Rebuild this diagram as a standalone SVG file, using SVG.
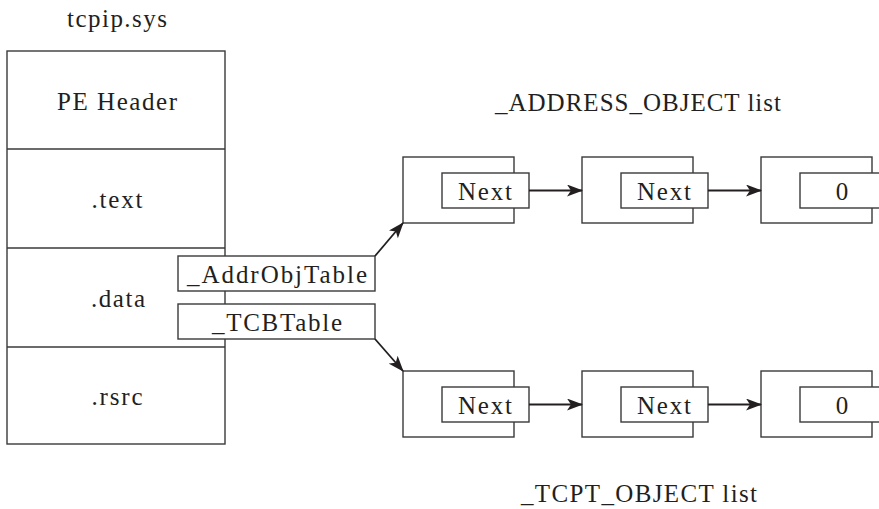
<svg xmlns="http://www.w3.org/2000/svg" width="879" height="509" viewBox="0 0 879 509">
<style>
.b{fill:#fff;stroke:#3a3a3a;stroke-width:1.4}
.t{font-family:"Liberation Serif","Times New Roman",serif;font-size:25px;fill:#231f20;text-anchor:middle}
.c{stroke:#231f20;stroke-width:1.8;fill:none}
</style>
<defs>
<marker id="ah" markerWidth="16" markerHeight="12" refX="15" refY="6" orient="auto" markerUnits="userSpaceOnUse">
<path d="M0,0 L16,6 L0,12 L4,6 Z" fill="#231f20"/>
</marker>
</defs>
<rect width="879" height="509" fill="#fff"/>
<text class="t" x="117" y="27" textLength="100">tcpip.sys</text>
<g id="pe">
<rect class="b" x="7" y="51" width="218" height="393"/>
<line class="b" x1="7" y1="149" x2="225" y2="149"/>
<line class="b" x1="7" y1="248" x2="225" y2="248"/>
<line class="b" x1="7" y1="347" x2="225" y2="347"/>
<text class="t" x="117" y="110" textLength="120">PE Header</text>
<text class="t" x="117" y="208" textLength="51">.text</text>
<text class="t" x="118" y="307" textLength="54">.data</text>
<text class="t" x="117" y="405" textLength="51">.rsrc</text>
</g>
<g id="addrobjtable">
<rect class="b" x="178" y="256" width="197" height="35"/>
<text class="t" x="277" y="283" textLength="180">_AddrObjTable</text>
</g>
<g id="tcbtable">
<rect class="b" x="178" y="304" width="197" height="35"/>
<text class="t" x="277" y="331" textLength="130">_TCBTable</text>
</g>
<text class="t" x="638" y="111" textLength="286">_ADDRESS_OBJECT list</text>
<text class="t" x="639" y="502" textLength="236">_TCPT_OBJECT list</text>
<g id="a1">
<rect class="b" x="403" y="157" width="111" height="66"/>
<rect class="b" x="442" y="173" width="87" height="35"/>
<text class="t" x="485" y="200" textLength="54">Next</text>
</g>
<g id="a2">
<rect class="b" x="582" y="157" width="111" height="66"/>
<rect class="b" x="621" y="173" width="87" height="35"/>
<text class="t" x="664" y="200" textLength="54">Next</text>
</g>
<g id="a3">
<rect class="b" x="761" y="157" width="111" height="66"/>
<rect class="b" x="800" y="173" width="87" height="35"/>
<text class="t" x="842" y="200">0</text>
</g>
<g id="t1">
<rect class="b" x="403" y="371" width="111" height="66"/>
<rect class="b" x="442" y="387" width="87" height="35"/>
<text class="t" x="485" y="414" textLength="54">Next</text>
</g>
<g id="t2">
<rect class="b" x="582" y="371" width="111" height="66"/>
<rect class="b" x="621" y="387" width="87" height="35"/>
<text class="t" x="664" y="414" textLength="54">Next</text>
</g>
<g id="t3">
<rect class="b" x="761" y="371" width="111" height="66"/>
<rect class="b" x="800" y="387" width="87" height="35"/>
<text class="t" x="842" y="414">0</text>
</g>
<g id="connectors">
<line class="c" x1="375" y1="256" x2="403" y2="223" marker-end="url(#ah)"/>
<line class="c" x1="375" y1="339" x2="403" y2="371" marker-end="url(#ah)"/>
<line class="c" x1="529" y1="190.5" x2="582" y2="190.5" marker-end="url(#ah)"/>
<line class="c" x1="708" y1="190.5" x2="761" y2="190.5" marker-end="url(#ah)"/>
<line class="c" x1="529" y1="404.5" x2="582" y2="404.5" marker-end="url(#ah)"/>
<line class="c" x1="708" y1="404.5" x2="761" y2="404.5" marker-end="url(#ah)"/>
</g>
</svg>
